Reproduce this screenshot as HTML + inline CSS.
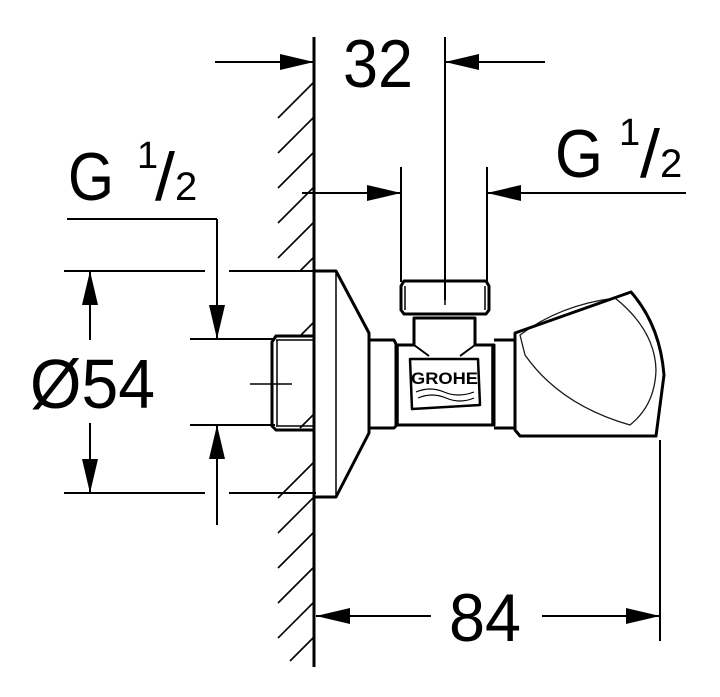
<!DOCTYPE html>
<html><head><meta charset="utf-8"><style>
html,body{margin:0;padding:0;background:#fff;width:720px;height:697px;overflow:hidden}
svg{display:block}
text{font-family:"Liberation Sans",sans-serif;fill:#000}
</style></head><body>
<svg width="720" height="697" viewBox="0 0 720 697" xmlns="http://www.w3.org/2000/svg">
<defs>
<g id="ah"><polygon points="0,0 -34,-8 -34,8" fill="#000"/></g>
</defs>
<g stroke="#000" fill="none" stroke-width="2">
<g stroke-width="1.6">
<path d="M278,118 L313,83 M278,153 L313,118 M278,188 L313,153 M278,223 L313,188 M278,258 L313,223 M300,271 L313,258 M300,336 L313,323 M300,428 L313,415 M278,498 L313,463 M278,533 L313,498 M278,568 L313,533 M278,603 L313,568 M278,638 L313,603 M290,661 L313,638"/>
</g>
<line x1="314" y1="37" x2="314" y2="667" stroke-width="3"/>
<line x1="215" y1="62" x2="314" y2="62"/>
<line x1="445" y1="37" x2="445" y2="300"/>
<line x1="445" y1="62" x2="545" y2="62"/>
<line x1="401" y1="167" x2="401" y2="282"/>
<line x1="487" y1="167" x2="487" y2="282"/>
<line x1="302" y1="193" x2="401" y2="193"/>
<line x1="487" y1="193" x2="686" y2="193"/>
<line x1="67" y1="219" x2="217" y2="219"/>
<line x1="217" y1="219" x2="217" y2="339"/>
<line x1="217" y1="425" x2="217" y2="525"/>
<line x1="190" y1="339" x2="275" y2="339"/>
<line x1="190" y1="425" x2="275" y2="425"/>
<line x1="64" y1="271" x2="205" y2="271"/>
<line x1="229" y1="271" x2="316" y2="271"/>
<line x1="64" y1="493" x2="205" y2="493"/>
<line x1="229" y1="493" x2="316" y2="493"/>
<line x1="90" y1="271" x2="90" y2="340"/>
<line x1="90" y1="423" x2="90" y2="493"/>
<line x1="660" y1="440" x2="660" y2="641"/>
<line x1="316" y1="616" x2="431" y2="616"/>
<line x1="542" y1="616" x2="660" y2="616"/>
<line x1="250" y1="384" x2="292" y2="384" stroke-width="1.5"/>
<g stroke-width="3" stroke-linejoin="round">
<path d="M314,271 L336,271 L369,333 L369,433 L336,497 L314,497"/>
<line x1="336" y1="271" x2="336" y2="497" stroke-width="1.5"/>
<path d="M314,336 L276,336 L272,342 L272,426 L276,430 L314,430"/>
<line x1="276" y1="340" x2="314" y2="340" stroke-width="1.5"/>
<line x1="276" y1="426" x2="314" y2="426" stroke-width="1.5"/>
<line x1="277" y1="340" x2="277" y2="426" stroke-width="1.5"/>
<path d="M369,340 L394,340 L396,344 L396,426 L394,428 L369,428"/>
<path d="M396,345 L414,345 L414,318 L475,318 L475,345 L494,345 L494,425 L396,425"/>
<path d="M414,345 L429,356 M475,345 L460,356" stroke-width="2"/>
<path d="M494,340 L515,340 L515,428 L494,428"/>
<line x1="398" y1="345" x2="398" y2="425" stroke-width="1.5"/>
<line x1="492" y1="345" x2="492" y2="425" stroke-width="1.5"/>
<path d="M401,286 L404,281 L486,281 L489,286 L489,310 L486,314 L404,314 L401,310 Z"/>
<line x1="405" y1="286" x2="405" y2="310" stroke-width="1.5"/>
<line x1="485" y1="286" x2="485" y2="310" stroke-width="1.5"/>
<line x1="445" y1="286" x2="445" y2="305" stroke-width="1.5"/>
<path d="M515,333 L631,292 Q660,325 664,375 L656,436 L520,436 L515,430 Z"/>
<path d="M520,335 Q560,305 615,298 Q655,330 656,370 Q655,405 630,425 Q560,405 525,355 Z" stroke-width="1.3" fill="none" opacity="0.9"/>
<path d="M410,359 L478,359 L480,405 L412,409 Z" stroke-width="2.5"/>
</g>
<path d="M416,392 Q430,386 444,392 T474,392 M418,398 Q432,392 446,398 T474,398" stroke-width="1.2"/>
</g>
<text x="411" y="384" font-size="17" font-weight="bold" textLength="67" lengthAdjust="spacingAndGlyphs">GROHE</text>
<use href="#ah" transform="translate(314,62)"/>
<use href="#ah" transform="translate(445,62) rotate(180)"/>
<use href="#ah" transform="translate(401,193)"/>
<use href="#ah" transform="translate(487,193) rotate(180)"/>
<use href="#ah" transform="translate(217,339) rotate(90)"/>
<use href="#ah" transform="translate(217,425) rotate(-90)"/>
<use href="#ah" transform="translate(90,271) rotate(-90)"/>
<use href="#ah" transform="translate(90,493) rotate(90)"/>
<use href="#ah" transform="translate(316,616) rotate(180)"/>
<use href="#ah" transform="translate(660,616)"/>
<text x="343" y="87" font-size="68" textLength="70" lengthAdjust="spacingAndGlyphs">32</text>
<text x="555" y="177" font-size="68" textLength="48" lengthAdjust="spacingAndGlyphs">G</text>
<text x="619" y="145" font-size="38">1</text>
<text x="640" y="177" font-size="68" textLength="20" lengthAdjust="spacingAndGlyphs">/</text>
<text x="660" y="177" font-size="40">2</text>
<text x="68" y="200" font-size="68" textLength="46" lengthAdjust="spacingAndGlyphs">G</text>
<text x="137" y="168" font-size="38">1</text>
<text x="155" y="200" font-size="68" textLength="20" lengthAdjust="spacingAndGlyphs">/</text>
<text x="175" y="200" font-size="40">2</text>
<text x="30" y="408" font-size="70" textLength="125" lengthAdjust="spacingAndGlyphs">Ø54</text>
<text x="449" y="641" font-size="68" textLength="72" lengthAdjust="spacingAndGlyphs">84</text>
</svg>
</body></html>
